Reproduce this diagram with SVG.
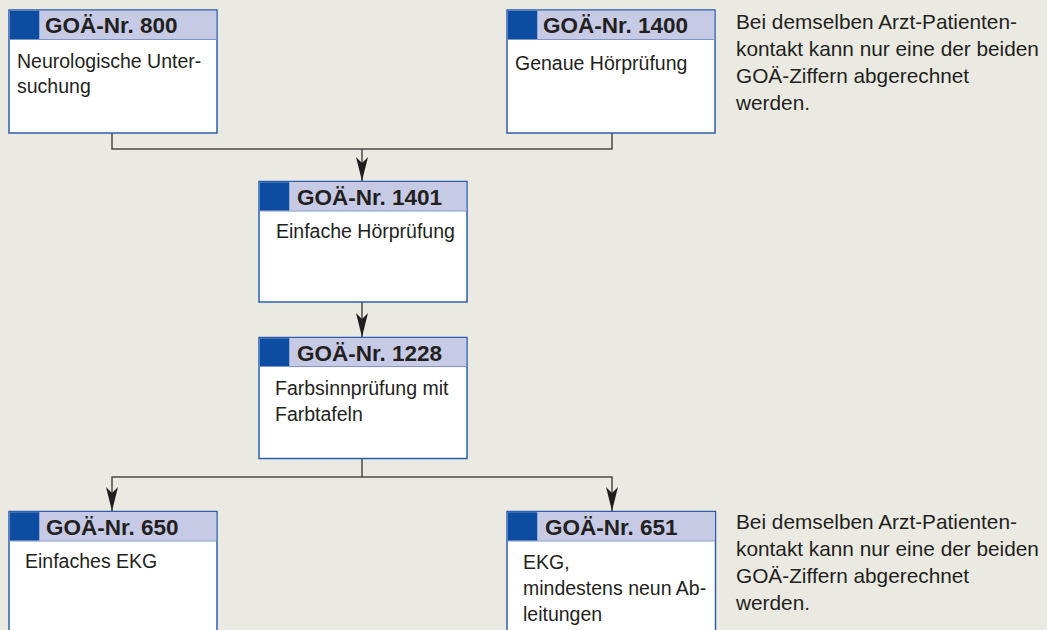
<svg xmlns="http://www.w3.org/2000/svg" width="1047" height="630" viewBox="0 0 1047 630">
<defs>
<style>
.bg{fill:#EBEAE2}
.box{fill:#FFFFFF;stroke:#2C5EAD;stroke-width:1.5}
.hdr{fill:#C6CAE4}
.sq{fill:#0D4DA1}
.hl{stroke:#7D96CC;stroke-width:1}
.ht{font-family:"Liberation Sans",Arial,sans-serif;font-weight:bold;font-size:22.5px;fill:#231F20}
.bt{font-family:"Liberation Sans",Arial,sans-serif;font-size:19.5px;fill:#231F20}
.st{font-family:"Liberation Sans",Arial,sans-serif;font-size:20.8px;fill:#231F20}
.con{fill:none;stroke:#4A4A4A;stroke-width:1.5}
</style>
<marker id="arr" markerUnits="userSpaceOnUse" markerWidth="28" markerHeight="16" viewBox="-26 -8 28 16" refX="0" refY="0" orient="auto">
<path d="M0,0 L-24,-6 L-18,0 L-24,6 Z" fill="#1E1E1E"/>
</marker>
</defs>
<rect class="bg" x="0" y="0" width="1047" height="630"/>

<g id="connectors">
<path class="con" d="M112,133 V149 H612 V133"/>
<path class="con" d="M362,149 V181" marker-end="url(#arr)"/>
<path class="con" d="M362,302 V337" marker-end="url(#arr)"/>
<path class="con" d="M362,458 V477"/>
<path class="con" d="M362,477 H112 V511" marker-end="url(#arr)"/>
<path class="con" d="M362,477 H612 V511" marker-end="url(#arr)"/>
</g>

<g id="node-800">
<rect class="box" x="9" y="10" width="208" height="123"/>
<rect class="hdr" x="9.75" y="10.75" width="206.5" height="28.5"/>
<rect class="sq" x="9.75" y="10.75" width="29.5" height="28.5"/>
<line class="hl" x1="9.75" y1="39.5" x2="216.25" y2="39.5"/>
<text class="ht" x="45" y="33">GOÄ-Nr. 800</text>
<text class="bt" x="17" y="68">Neurologische Unter-</text>
<text class="bt" x="17" y="93">suchung</text>
</g>

<g id="node-1400">
<rect class="box" x="507" y="10" width="208" height="123"/>
<rect class="hdr" x="507.75" y="10.75" width="206.5" height="28.5"/>
<rect class="sq" x="507.75" y="10.75" width="29.5" height="28.5"/>
<line class="hl" x1="507.75" y1="39.5" x2="714.25" y2="39.5"/>
<text class="ht" x="543" y="33">GOÄ-Nr. 1400</text>
<text class="bt" x="515" y="70">Genaue Hörprüfung</text>
</g>

<g id="note-top">
<text class="st" x="736" y="29">Bei demselben Arzt-Patienten-</text>
<text class="st" x="736" y="56">kontakt kann nur eine der beiden</text>
<text class="st" x="736" y="83">GOÄ-Ziffern abgerechnet</text>
<text class="st" x="736" y="110">werden.</text>
</g>

<g id="node-1401">
<rect class="box" x="259" y="181.5" width="208" height="120.5"/>
<rect class="hdr" x="259.75" y="182.25" width="206.5" height="28.5"/>
<rect class="sq" x="259.75" y="182.25" width="29.5" height="28.5"/>
<line class="hl" x1="259.75" y1="211" x2="466.25" y2="211"/>
<text class="ht" x="297" y="204.5">GOÄ-Nr. 1401</text>
<text class="bt" x="276" y="238">Einfache Hörprüfung</text>
</g>

<g id="node-1228">
<rect class="box" x="259" y="337.5" width="208" height="121"/>
<rect class="hdr" x="259.75" y="338.25" width="206.5" height="28.5"/>
<rect class="sq" x="259.75" y="338.25" width="29.5" height="28.5"/>
<line class="hl" x1="259.75" y1="366.5" x2="466.25" y2="366.5"/>
<text class="ht" x="297" y="361">GOÄ-Nr. 1228</text>
<text class="bt" x="275" y="395">Farbsinnprüfung mit</text>
<text class="bt" x="275" y="421">Farbtafeln</text>
</g>

<g id="node-650">
<rect class="box" x="9" y="511.5" width="208" height="130"/>
<rect class="hdr" x="9.75" y="512.25" width="206.5" height="28.5"/>
<rect class="sq" x="9.75" y="512.25" width="29.5" height="28.5"/>
<line class="hl" x1="9.75" y1="541" x2="216.25" y2="541"/>
<text class="ht" x="46" y="534.5">GOÄ-Nr. 650</text>
<text class="bt" x="25" y="568">Einfaches EKG</text>
</g>

<g id="node-651">
<rect class="box" x="507" y="511.5" width="208.5" height="130"/>
<rect class="hdr" x="507.75" y="512.25" width="207" height="28.5"/>
<rect class="sq" x="507.75" y="512.25" width="29.5" height="28.5"/>
<line class="hl" x1="507.75" y1="541" x2="714.75" y2="541"/>
<text class="ht" x="545" y="535">GOÄ-Nr. 651</text>
<text class="bt" x="523" y="569">EKG,</text>
<text class="bt" x="523" y="595">mindestens neun Ab-</text>
<text class="bt" x="523" y="621">leitungen</text>
</g>

<g id="note-bottom">
<text class="st" x="736" y="529">Bei demselben Arzt-Patienten-</text>
<text class="st" x="736" y="556">kontakt kann nur eine der beiden</text>
<text class="st" x="736" y="583">GOÄ-Ziffern abgerechnet</text>
<text class="st" x="736" y="610">werden.</text>
</g>
</svg>
